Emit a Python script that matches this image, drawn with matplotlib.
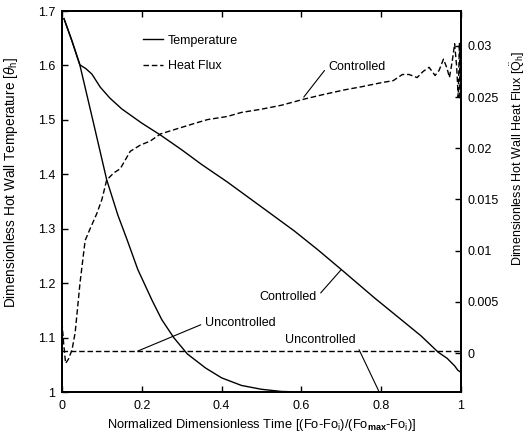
import matplotlib
matplotlib.use("Agg")
import matplotlib.pyplot as plt
from matplotlib.ticker import FuncFormatter

plt.rcParams['font.family'] = ['Liberation Sans', 'DejaVu Sans']
plt.rcParams['mathtext.fontset'] = 'custom'
plt.rcParams['mathtext.rm'] = 'Liberation Sans'
plt.rcParams['mathtext.it'] = 'Liberation Sans:italic'
plt.rcParams['mathtext.bf'] = 'Liberation Sans:bold'

# ---- data ----
t_ctrl_x = [0.005, 0.025, 0.045, 0.06, 0.075, 0.096, 0.12, 0.15, 0.2, 0.247, 0.3, 0.35,
            0.414, 0.5, 0.582, 0.64, 0.70, 0.783, 0.85, 0.9, 0.943, 0.965, 0.984, 0.992, 1.0]
t_ctrl_y = [1.686, 1.645, 1.601, 1.594, 1.584, 1.56, 1.54, 1.52, 1.494, 1.472, 1.445, 1.418,
            1.386, 1.34, 1.296, 1.262, 1.225, 1.173, 1.133, 1.103, 1.073, 1.062, 1.048, 1.040, 1.036]

t_unc_x = [0.005, 0.024, 0.045, 0.079, 0.112, 0.14, 0.163, 0.19, 0.226, 0.25, 0.28, 0.314,
           0.36, 0.40, 0.45, 0.5, 0.55, 0.6]
t_unc_y = [1.686, 1.647, 1.60, 1.494, 1.39, 1.325, 1.28, 1.225, 1.168, 1.133, 1.10, 1.07,
           1.044, 1.026, 1.012, 1.005, 1.001, 1.0]

q_ctrl_x = [0.0, 0.004, 0.009, 0.016, 0.025, 0.033, 0.045, 0.058, 0.07, 0.087, 0.1, 0.112,
            0.13, 0.146, 0.171, 0.196, 0.221, 0.247, 0.28, 0.33, 0.365, 0.414, 0.45, 0.498,
            0.55, 0.607, 0.65, 0.708, 0.75, 0.80, 0.83, 0.853, 0.87, 0.89, 0.905, 0.92,
            0.935, 0.945, 0.956, 0.965, 0.971, 0.978, 0.984, 0.989, 0.993, 0.996, 0.998, 1.0]
q_ctrl_y = [0.003, 0.001, -0.001, -0.0006, 0.0003, 0.002, 0.0068, 0.0110, 0.0121, 0.0136,
            0.015, 0.0169, 0.0176, 0.018, 0.0197, 0.0203, 0.0207, 0.0214, 0.0218, 0.0224,
            0.0228, 0.0231, 0.0235, 0.0238, 0.0242, 0.0248, 0.0252, 0.0257, 0.026, 0.0264,
            0.0266, 0.0272, 0.0272, 0.0269, 0.0275, 0.0279, 0.0271, 0.0276, 0.0287, 0.0278,
            0.0269, 0.0285, 0.0302, 0.028, 0.0250, 0.0303, 0.0248, 0.031]

q_unc_x = [0.0, 1.0]
q_unc_y = [0.0002, 0.0002]

x_ticks = [0, 0.2, 0.4, 0.6, 0.8, 1.0]
t_ticks = [1.0, 1.1, 1.2, 1.3, 1.4, 1.5, 1.6, 1.7]
q_ticks = [0, 0.005, 0.01, 0.015, 0.02, 0.025, 0.03]

# ---- figure ----
fig = plt.figure(figsize=(5.29, 4.42), dpi=100)
ax = fig.add_axes([0.1172, 0.1131, 0.7543, 0.862])
ax2 = ax.twinx()

fs = 9
dash = (0, (4, 2))

ln_t, = ax.plot(t_ctrl_x, t_ctrl_y, color='k', lw=1.0, label='Temperature')
ax.plot(t_unc_x, t_unc_y, color='k', lw=1.0)
ln_q, = ax2.plot(q_ctrl_x, q_ctrl_y, color='k', lw=1.0, linestyle=dash, label='Heat Flux')
ax2.plot(q_unc_x, q_unc_y, color='k', lw=1.0, linestyle=dash)

ax.set_xlim(0, 1)
ax.set_ylim(1.0, 1.7)
ax2.set_ylim(-0.0038, 0.0334)

fmt = FuncFormatter(lambda v, p: '{:g}'.format(round(v, 4)))
ax.set_xticks(x_ticks)
ax.set_yticks(t_ticks)
ax2.set_yticks(q_ticks)
ax.xaxis.set_major_formatter(fmt)
ax.yaxis.set_major_formatter(fmt)
ax2.yaxis.set_major_formatter(fmt)

ax.tick_params(axis='x', direction='in', length=4, width=1, top=True, labelsize=fs, pad=6)
ax.tick_params(axis='y', direction='in', length=4, width=1, right=False, labelsize=fs, pad=5)
ax2.tick_params(axis='y', direction='in', length=4, width=1, labelsize=fs, pad=5)

for a in (ax, ax2):
    for s in a.spines.values():
        s.set_linewidth(1.3)

ax.set_xlabel(r'Normalized Dimensionless Time [(Fo-Fo$_\mathrm{i}$)/(Fo$_\mathbf{max}$-Fo$_\mathrm{i}$)]',
              fontsize=9.3)
ax.xaxis.set_label_coords(0.5, -0.087)
ax.xaxis.label.set_va('center')

ax.set_ylabel(r'Dimensionless Hot Wall Temperature [$\theta_\mathrm{h}$]', fontsize=9.8)
ax.yaxis.set_label_coords(-0.128, 0.551)
ax.yaxis.label.set_va('center')

ax2.set_ylabel(r'Dimensionless Hot Wall Heat Flux [$\ddot{\mathrm{Q}}_\mathrm{h}$]', fontsize=fs,
               rotation=90)
ax2.yaxis.set_label_coords(1.143, 0.614)
ax2.yaxis.label.set_va('center')

ax2.legend(handles=[ln_t, ln_q], loc='upper left', bbox_to_anchor=(0.203, 0.938),
           frameon=False, handlelength=1.6, handletextpad=0.4, labelspacing=1.1,
           borderaxespad=0, borderpad=0, fontsize=fs)

ap = dict(arrowstyle='-', color='k', lw=0.8, shrinkA=1, shrinkB=0)
ax2.annotate('Controlled', xy=(0.606, 0.0250), xytext=(0.667, 0.853),
             textcoords='axes fraction', ha='left', va='center', fontsize=fs,
             arrowprops=dict(ap, relpos=(0, 0.6)))
ax.annotate('Controlled', xy=(0.70, 1.225), xytext=(0.639, 0.249),
            textcoords='axes fraction', ha='right', va='center', fontsize=fs,
            arrowprops=dict(ap, relpos=(1, 0.5)))
ax2.annotate('Uncontrolled', xy=(0.19, 0.0002), xytext=(0.358, 0.181),
             textcoords='axes fraction', ha='left', va='center', fontsize=fs,
             arrowprops=dict(ap, relpos=(0, 0.5)))
ax.annotate('Uncontrolled', xy=(0.795, 1.0), xytext=(0.559, 0.136),
            textcoords='axes fraction', ha='left', va='center', fontsize=fs,
            arrowprops=dict(ap, relpos=(1, 0.3)))

fig.savefig('out.png', dpi=100)
